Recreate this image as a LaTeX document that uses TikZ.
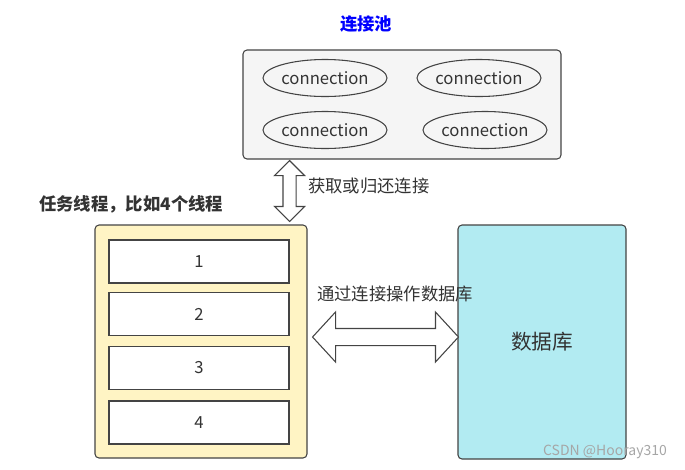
\documentclass[tikz,border=0pt]{standalone}
\usepackage{fontspec}
\setmainfont{Noto Sans CJK SC}
\usepackage{tikz}
\usetikzlibrary{positioning,calc,shapes.geometric}
\definecolor{poolfill}{HTML}{F5F5F5}
\definecolor{threadfill}{HTML}{FFF4C4}
\definecolor{dbfill}{HTML}{B2EBF2}
\definecolor{edge}{HTML}{444444}
\definecolor{txt}{HTML}{333333}
\definecolor{titleblue}{HTML}{0000FF}
% hollow double arrow: from, to, shaft half width, head half width, head length
\newcommand\hollowarrow[5]{%
  \draw[hollow] (#1)
    -- ($($(#1)!#5!(#2)$)!#4!90:(#2)$)
    -- ($($(#1)!#5!(#2)$)!#3!90:(#2)$)
    -- ($($(#2)!#5!(#1)$)!#3!90:(#2)$)
    -- ($($(#2)!#5!(#1)$)!#4!90:(#2)$)
    -- (#2)
    -- ($($(#2)!#5!(#1)$)!#4!-90:(#2)$)
    -- ($($(#2)!#5!(#1)$)!#3!-90:(#2)$)
    -- ($($(#1)!#5!(#2)$)!#3!-90:(#2)$)
    -- ($($(#1)!#5!(#2)$)!#4!-90:(#2)$)
    -- cycle;}

\begin{document}
\begin{tikzpicture}[x=0.75pt, y=-0.75pt,
  box/.style={draw=edge, rounded corners=3pt, line width=0.8pt},
  conn/.style={ellipse, draw=edge, line width=0.8pt, minimum width=93pt, minimum height=27.75pt,
               inner sep=0pt, text=txt, font=\fontsize{12.5}{14}\selectfont},
  slot/.style={draw=edge, line width=0.8pt, fill=white, minimum width=135pt, minimum height=32.25pt,
               inner sep=0pt, text=txt, font=\fontsize{12.5}{14}\selectfont},
  lbl/.style={text=txt, font=\fontsize{13}{15}\selectfont, inner sep=0pt},
  hollow/.style={draw=edge, fill=white, line width=0.8pt, line join=miter}]
\useasboundingbox (0,0) rectangle (685,469);
% connection pool
\node[lbl, text=titleblue, font=\fontsize{13}{15}\selectfont\bfseries] (pooltitle) at (366,24) {连接池};
\node[box, fill=poolfill, minimum width=238.5pt, minimum height=81.75pt] (pool) at (402,104.5) {};
\node[conn] (c1) at (325,78) {connection};
\node[conn] (c2) at (479,78) {connection};
\node[conn] (c3) at (325,130) {connection};
\node[conn] (c4) at (485,130) {connection};
% worker threads
\node[lbl, font=\fontsize{13}{15}\selectfont\bfseries, anchor=west] (threadtitle) at (39,204) {任务线程，比如4个线程};
\node[box, fill=threadfill, minimum width=159pt, minimum height=174.75pt] (threads) at (201,341.5) {};
\node[slot] (t1) at (199,261.5) {1};
\node[slot] (t2) at (199,314) {2};
\node[slot] (t3) at (199,368) {3};
\node[slot] (t4) at (199,422.5) {4};
% database
\node[box, fill=dbfill, minimum width=126pt, minimum height=175.5pt, text=txt,
      font=\fontsize{15.5}{18}\selectfont] (db) at (542,342) {数据库};
% arrows
\coordinate (gettop) at ($(pool.south -| t1.east)+(0,1)$);
\coordinate (getbot) at ($(threads.north -| t1.east)+(0,-3)$);
\hollowarrow{gettop}{getbot}{4.9pt}{11.25pt}{11.25pt}
\node[lbl, anchor=west] (getlbl) at (308,186) {获取或归还连接};
\coordinate (opleft) at ($(threads.east |- 0,337)+(5,0)$);
\coordinate (opright) at ($(db.west |- 0,337)+(1,0)$);
\hollowarrow{opleft}{opright}{6.4pt}{18.75pt}{17.25pt}
\node[lbl, anchor=west] (oplbl) at (317,294) {通过连接操作数据库};
\node[lbl, text=gray!70, font=\fontsize{10.5}{12}\selectfont] (mark) at (605,452) {CSDN @Hooray310};
\end{tikzpicture}
\end{document}
